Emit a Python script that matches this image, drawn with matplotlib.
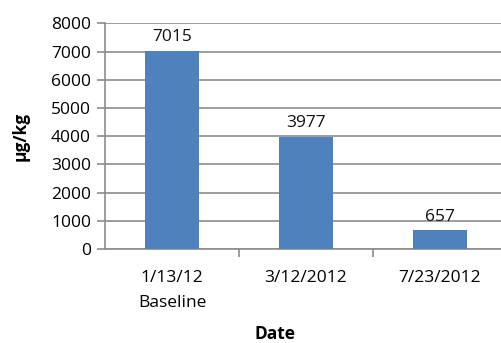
import matplotlib
matplotlib.use("Agg")
import matplotlib.pyplot as plt
import numpy as np

plt.rcParams['font.family'] = ['Open Sans', 'DejaVu Sans']

categories = ["1/13/12\nBaseline", "3/12/2012", "7/23/2012"]
values = [7015, 3977, 657]
yticks = [0, 1000, 2000, 3000, 4000, 5000, 6000, 7000, 8000]

fig = plt.figure(figsize=(5.01, 3.43), dpi=100)
# axes runs slightly past the right edge, as in the reference
ax = fig.add_axes([105 / 501, 1 - 249 / 343, 402 / 501, (249 - 23.3) / 343])

x = np.arange(len(values))
bars = ax.bar(x, values, width=0.4, color='#4f81bd', zorder=3)

for b, v in zip(bars, values):
    ax.text(b.get_x() + b.get_width() / 2, v + 200, str(v),
            ha='center', va='bottom', fontsize=12.5, color='#111111')

ax.set_xlim(-0.5, 2.5)
ax.set_ylim(0, 8000)
ax.set_yticks(yticks)
ax.set_yticklabels([str(t) for t in yticks], fontsize=12.5)
ax.yaxis.grid(True, color='#8c8c8c', linewidth=1.2, zorder=0)

ax.set_xticks(x)
ax.set_xticklabels(categories, fontsize=12.5, linespacing=1.75)
ax.set_xticks([0.5, 1.5, 2.5], minor=True)
ax.tick_params(axis='x', which='major', length=0, pad=15)
ax.tick_params(axis='x', which='minor', length=6, color='#8c8c8c', width=1.2)
ax.tick_params(axis='y', length=6, color='#8c8c8c', width=1.2, pad=4)

for s in ['top', 'right']:
    ax.spines[s].set_visible(False)
for s in ['left', 'bottom']:
    ax.spines[s].set_color('#8c8c8c')
    ax.spines[s].set_linewidth(1.2)

fig.text(21 / 501, 1 - 136 / 343, "µg/kg", rotation=90, ha='center', va='center',
         fontsize=12.5, fontweight='bold')
fig.text(275 / 501, 1 - 334 / 343, "Date", ha='center', va='center',
         fontsize=12.5, fontweight='bold')

fig.savefig("out.png", dpi=100)
